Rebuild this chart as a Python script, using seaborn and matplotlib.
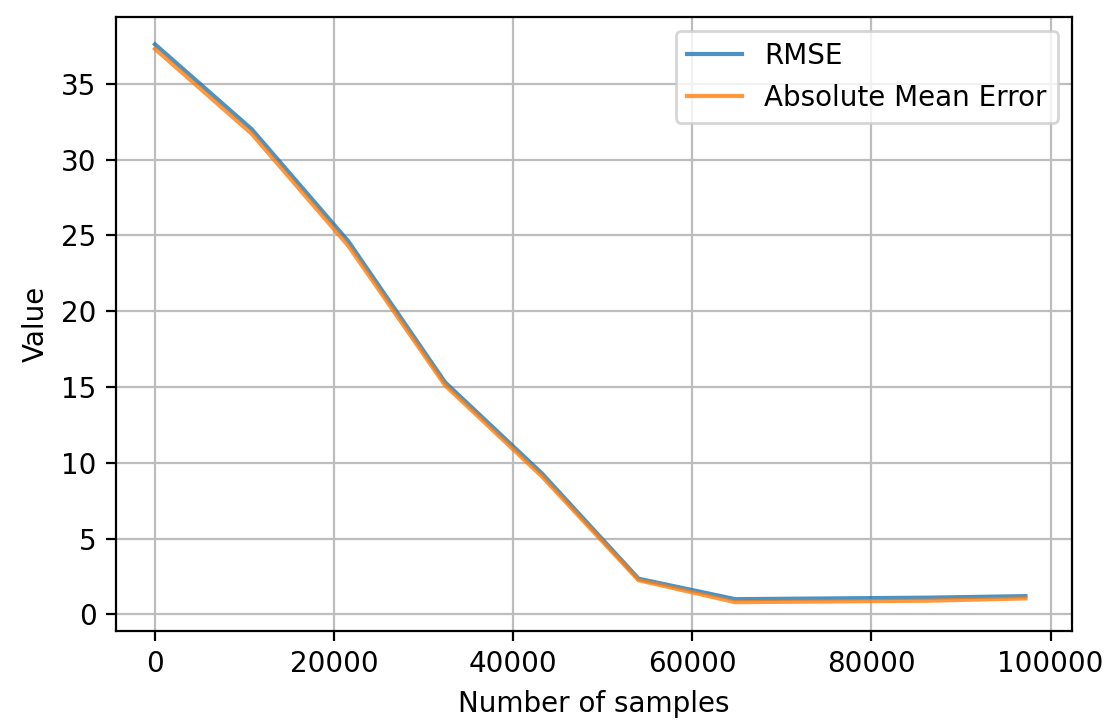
import numpy as np
import pandas as pd
import seaborn as sns
import matplotlib
matplotlib.use("Agg")
import matplotlib.pyplot as plt

# values
samples = [0, 10800, 21600, 32400, 43200, 54000, 64800, 75600, 86400, 97200]
rmse = [37.6, 32.0, 24.6, 15.3, 9.3, 2.35, 1.0, 1.05, 1.1, 1.2]
abs_mean_err = [37.3, 31.7, 24.3, 15.1, 9.1, 2.25, 0.8, 0.85, 0.9, 1.05]

df = pd.DataFrame({
    "Number of samples": samples * 2,
    "Value": rmse + abs_mean_err,
    "metric": ["RMSE"] * len(samples) + ["Absolute Mean Error"] * len(samples),
})

dpi = 200
fig = plt.figure(figsize=(1106 / dpi, 723 / dpi), dpi=dpi)
ax = fig.add_axes([116 / 1106, 1 - 631 / 723, (1072 - 116) / 1106, (631 - 17) / 723])

sns.lineplot(data=df, x="Number of samples", y="Value", hue="metric",
             palette=["#1f77b4", "#ff7f0e"], alpha=0.8, linewidth=1.5, ax=ax)

ax.grid(True, color="#bdbdbd", linewidth=0.8)
ax.set_axisbelow(True)
ax.set_xticks([0, 20000, 40000, 60000, 80000, 100000])
ax.set_yticks([0, 5, 10, 15, 20, 25, 30, 35])
ax.set_xlim(-4350, 102400)
ax.set_ylim(-1.1, 39.4)
ax.legend(title=None, loc="upper right")

fig.savefig("out.png", dpi=dpi)
